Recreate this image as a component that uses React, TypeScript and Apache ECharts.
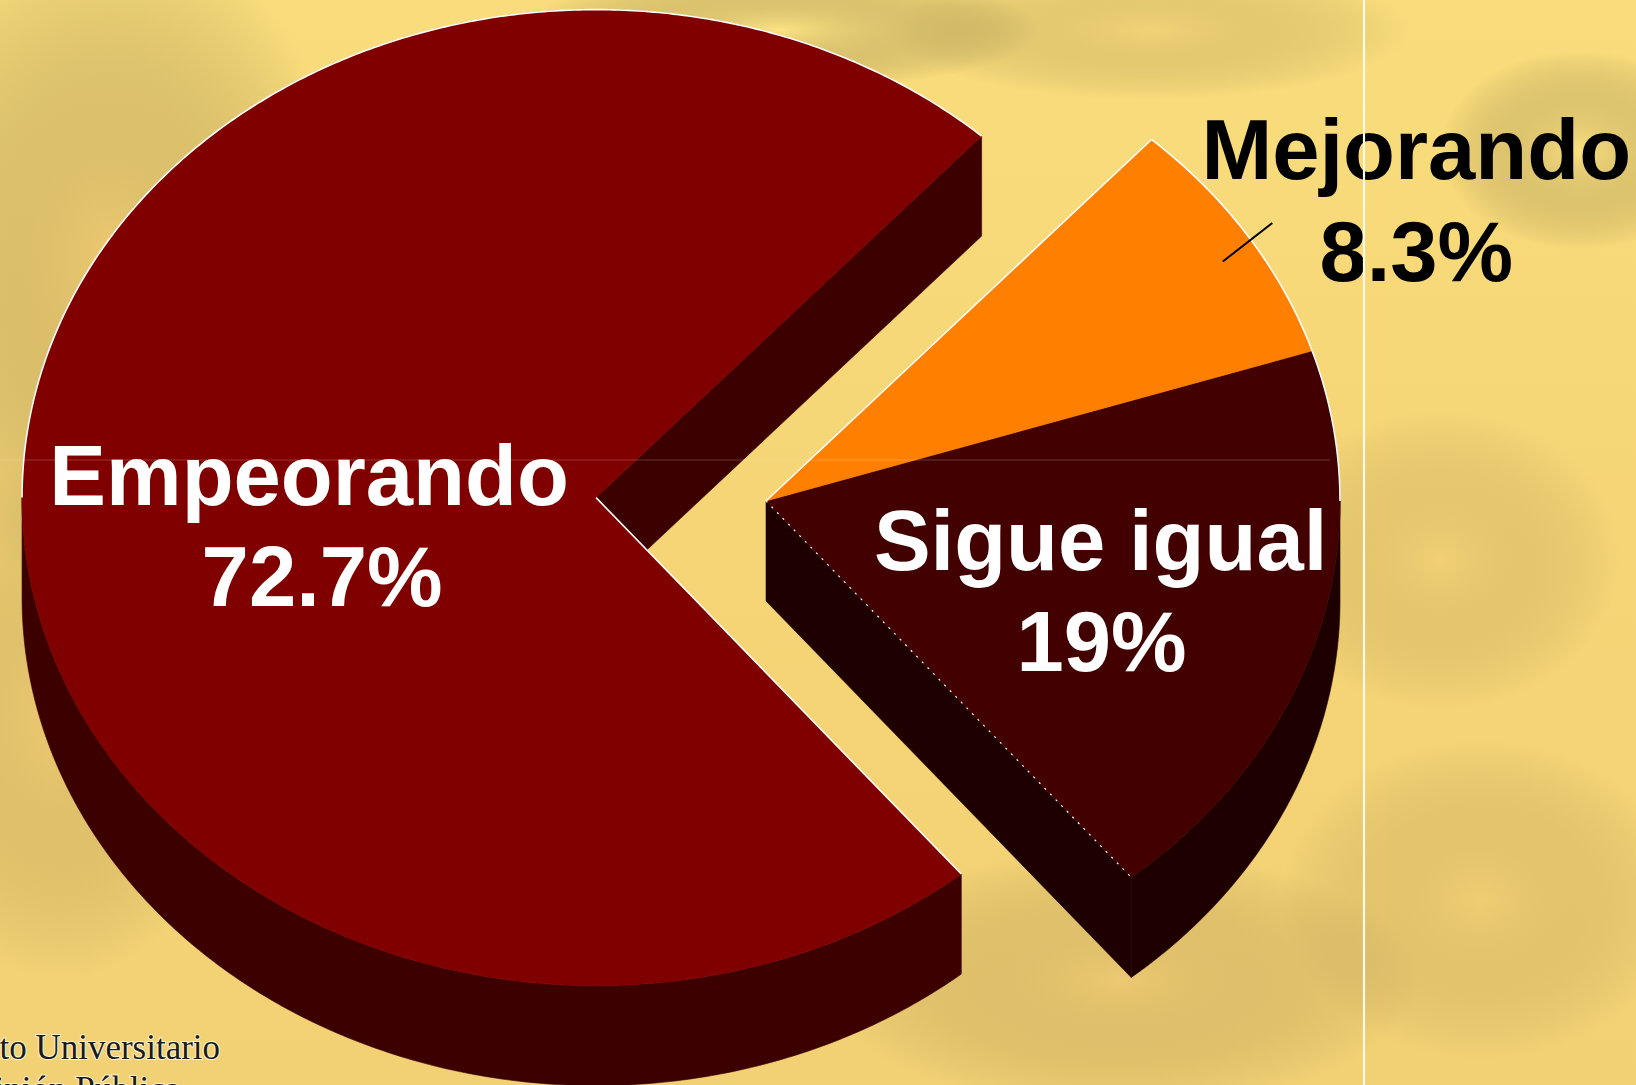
import React, { useEffect, useRef } from "react";
import * as echarts from "echarts";

// ---------- data ----------
const categories = ["Empeorando", "Sigue igual", "Mejorando"];
const values = [72.7, 19, 8.3];
const valueLabels = ["72.7%", "19%", "8.3%"];
const footerLines = ["Instituto Universitario", "de Opinión Pública"];

// ---------- geometry / style ----------
const W = 1636;
const H = 1085;
const CX = 766;
const CY = 501;
const RX = 574;
const RY = 488;
const DEPTH = 100;
const START_ANGLE = 47.8; // degrees, counter-clockwise
const EXPLODE = [170, 0, 0];
const TOP_COLORS = ["#800000", "#420000", "#FF8000"];
const SIDE_COLORS = ["#3c0000", "#1e0000", "#9a4800"];
const LABEL_COLORS = ["#ffffff", "#ffffff", "#000000"];
const FONT = 'bold 85px "Liberation Sans", Arial, sans-serif';

const rad = (d: number) => (d * Math.PI) / 180;

function computeAngles(): number[][] {
  const total = values.reduce((a, b) => a + b, 0);
  let a = START_ANGLE;
  return values.map((v) => {
    const s = a;
    const e = a + (v / total) * 360;
    a = e;
    return [s, e];
  });
}
const ANGLES = computeAngles();
const N = values.length;

function apex(i: number): number[] {
  const [s, e] = ANGLES[i];
  const m = rad((s + e) / 2);
  return [CX + EXPLODE[i] * Math.cos(m), CY - EXPLODE[i] * Math.sin(m) * (RY / RX)];
}
function pt(ax: number, ay: number, deg: number, r = 1): number[] {
  return [ax + RX * r * Math.cos(rad(deg)), ay - RY * r * Math.sin(rad(deg))];
}
function arc(ax: number, ay: number, a0: number, a1: number): number[][] {
  const n = Math.max(2, Math.ceil((a1 - a0) / 0.5));
  const out: number[][] = [];
  for (let k = 0; k <= n; k++) out.push(pt(ax, ay, a0 + ((a1 - a0) * k) / n));
  return out;
}
const poly = (points: number[][], fill: string) => ({
  type: "polygon",
  shape: { points },
  style: { fill, stroke: fill, lineWidth: 0.6 },
});
const line = (points: number[][], stroke: string, lineWidth: number, lineDash?: number[]) => ({
  type: "polyline",
  shape: { points },
  style: { fill: null, stroke, lineWidth, lineDash },
});

function renderSides(params: any) {
  const i = params.dataIndex;
  const [s, e] = ANGLES[i];
  const [ax, ay] = apex(i);
  const side = SIDE_COLORS[i];
  const prev = (i - 1 + N) % N;
  const next = (i + 1) % N;
  const children: any[] = [];
  // radial faces only where the slice is separated from its neighbour
  if (Math.cos(rad(s)) > 0 && EXPLODE[prev] !== EXPLODE[i] + 0.0001 && !(EXPLODE[prev] === EXPLODE[i] && EXPLODE[i] === 0 && prev !== i && false)) {
    if (!(EXPLODE[prev] === 0 && EXPLODE[i] === 0)) {
      const p = pt(ax, ay, s);
      children.push(poly([[ax, ay], p, [p[0], p[1] + DEPTH], [ax, ay + DEPTH]], side));
    }
  }
  if (Math.cos(rad(e)) < 0 && !(EXPLODE[next] === 0 && EXPLODE[i] === 0)) {
    const p = pt(ax, ay, e);
    children.push(poly([[ax, ay], p, [p[0], p[1] + DEPTH], [ax, ay + DEPTH]], side));
  }
  for (const [lo, hi] of [
    [180, 360],
    [540, 720],
  ]) {
    const a0 = Math.max(s, lo);
    const a1 = Math.min(e, hi);
    if (a1 > a0) {
      const top = arc(ax, ay, a0, a1);
      const bottom = top.map((p) => [p[0], p[1] + DEPTH]).reverse();
      children.push(poly(top.concat(bottom), side));
    }
  }
  return { type: "group", children };
}

function renderTops(params: any) {
  const i = params.dataIndex;
  const [s, e] = ANGLES[i];
  const [ax, ay] = apex(i);
  const children: any[] = [];
  children.push(poly([[ax, ay], ...arc(ax, ay, s, e)], TOP_COLORS[i]));

  // light outline where the top face meets the background
  for (const [lo, hi] of [
    [0, 180],
    [360, 540],
  ]) {
    const a0 = Math.max(s, lo);
    const a1 = Math.min(e, hi);
    if (a1 > a0) children.push(line(arc(ax, ay, a0, a1), "#ffffff", 1.6));
  }
  const prev = (i - 1 + N) % N;
  const next = (i + 1) % N;
  if (EXPLODE[next] !== EXPLODE[i] && Math.cos(rad(e)) >= 0) {
    children.push(line([[ax, ay], pt(ax, ay, e)], "#ffffff", 1.6));
  }
  if (EXPLODE[prev] !== EXPLODE[i] && EXPLODE[i] === 0) {
    children.push(line([[ax, ay], pt(ax, ay, s)], "#ffffff", 1.2, [2, 6]));
  }

  // labels
  const m = (s + e) / 2;
  if (i === 2) {
    const p0 = pt(ax, ay, m - 1.2, 0.935);
    const p1 = pt(ax, ay, m, 1.05);
    children.push(line([p0, p1], "#000000", 2));
    children.push({
      type: "text",
      style: {
        text: categories[i] + "\n" + valueLabels[i],
        x: p1[0] + 144,
        y: p1[1] - 22,
        fill: LABEL_COLORS[i],
        font: FONT,
        align: "center",
        verticalAlign: "middle",
        lineHeight: 102,
      },
    });
  } else {
    const r = i === 0 ? 0.5 : 0.6;
    const p = pt(ax, ay, m, r);
    const y = p[1] + (i === 0 ? 34 : 8);
    children.push({
      type: "text",
      style: {
        text: categories[i],
        x: p[0] + (i === 0 ? 0 : 4),
        y: y - 50.5,
        fill: LABEL_COLORS[i],
        font: FONT,
        align: "center",
        verticalAlign: "middle",
        lineHeight: 101,
      },
    });
    children.push({
      type: "text",
      style: {
        text: valueLabels[i],
        x: p[0] + (i === 0 ? 13 : 5),
        y: y + 50.5,
        fill: LABEL_COLORS[i],
        font: FONT,
        align: "center",
        verticalAlign: "middle",
        lineHeight: 101,
      },
    });
  }
  return { type: "group", children };
}

function blob(cx: number, cy: number, rx: number, ry: number, color: string, op: number) {
  return {
    type: "ellipse",
    z: -9,
    silent: true,
    shape: { cx, cy, rx, ry },
    style: {
      fill: {
        type: "radial",
        x: 0.5,
        y: 0.5,
        r: 0.5,
        colorStops: [
          { offset: 0, color },
          { offset: 1, color: "rgba(0,0,0,0)" },
        ],
      },
      opacity: op,
    },
  };
}

export default function App() {
  const ref = useRef<HTMLDivElement>(null);
  useEffect(() => {
    if (!ref.current) return;
    const chart = echarts.init(ref.current, undefined, { renderer: "svg" });
    const option: any = {
      animation: false,
      backgroundColor: "#F5D576",
      graphic: [
        {
          type: "rect",
          z: -10,
          silent: true,
          shape: { x: 0, y: 0, width: W, height: H },
          style: {
            fill: {
              type: "linear",
              x: 0,
              y: 0,
              x2: 0,
              y2: 1,
              colorStops: [
                { offset: 0, color: "#F9DD7C" },
                { offset: 0.5, color: "#F5D576" },
                { offset: 1, color: "#F2D174" },
              ],
            },
          },
        },
        blob(110, 260, 240, 340, "#DDB264", 0.4),
        blob(60, 720, 180, 260, "#E2B869", 0.3),
        blob(1120, 980, 300, 130, "#DEB468", 0.3),
        blob(1480, 900, 200, 160, "#E6C06C", 0.25),
        blob(1440, 560, 180, 150, "#E8C46E", 0.25),
        blob(1150, 30, 260, 70, "#E4BD6A", 0.3),
        blob(780, 30, 260, 60, "#FFE98A", 0.5),
        blob(1580, 150, 140, 100, "#FFE787", 0.45),
        {
          type: "line",
          z: 50,
          silent: true,
          shape: { x1: 1364, y1: 0, x2: 1364, y2: H },
          style: { stroke: "#fffbe8", lineWidth: 2.2 },
        },
        {
          type: "line",
          z: 50,
          silent: true,
          shape: { x1: 0, y1: 460, x2: 1330, y2: 460 },
          style: { stroke: "rgba(255,240,210,0.22)", lineWidth: 1 },
        },
        {
          type: "text",
          z: 50,
          silent: true,
          style: {
            text: footerLines.join("\n"),
            x: -90,
            y: 1026,
            fill: "#1b1b1b",
            font: '35px "Liberation Serif", "Times New Roman", serif',
            lineHeight: 42,
            align: "left",
            verticalAlign: "top",
            stroke: "rgba(255,250,225,0.9)",
            lineWidth: 2,
          },
        },
      ],
      series: [
        {
          type: "custom",
          name: "sides",
          coordinateSystem: "none",
          silent: true,
          z: 2,
          renderItem: renderSides,
          data: values,
        },
        {
          type: "custom",
          name: "tops",
          coordinateSystem: "none",
          silent: true,
          z: 3,
          renderItem: renderTops,
          data: values,
        },
      ],
    };
    chart.setOption(option);
    return () => chart.dispose();
  }, []);
  return <div ref={ref} style={{ width: W, height: H, position: "absolute", left: 0, top: 0 }} />;
}
